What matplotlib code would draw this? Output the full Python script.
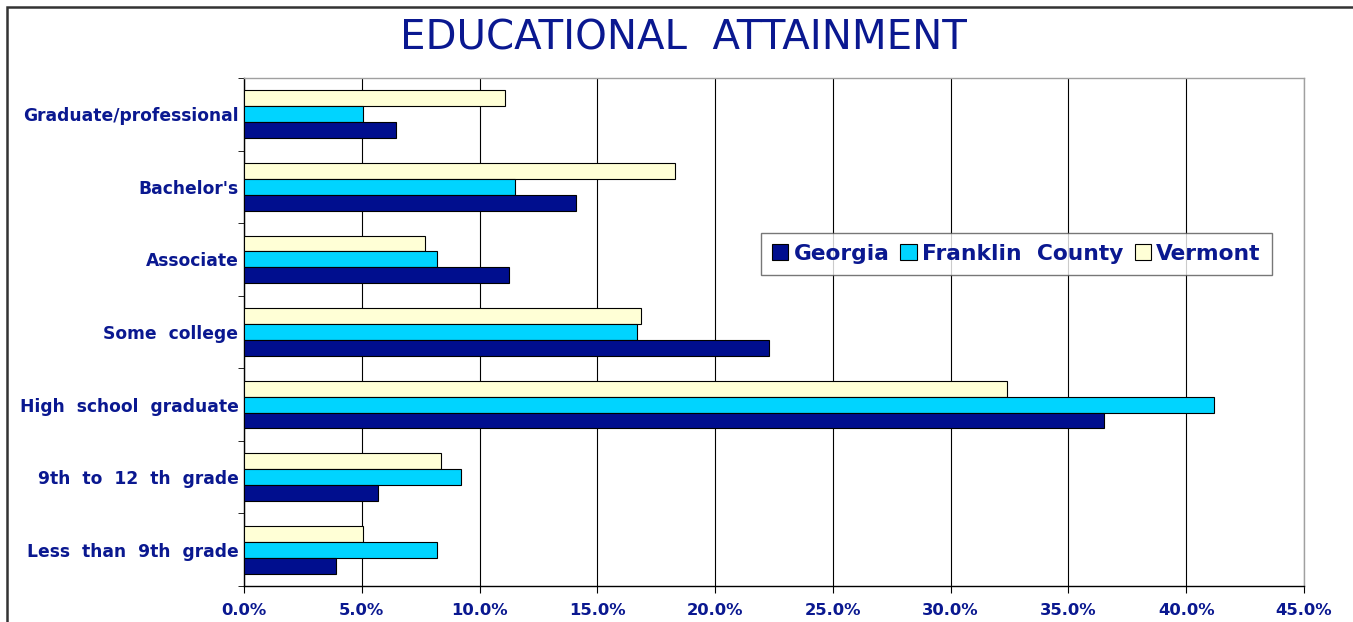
import matplotlib
matplotlib.use("Agg")
import matplotlib.pyplot as plt
from matplotlib.patches import Rectangle
from matplotlib.ticker import PercentFormatter
import numpy as np

# data (percent)
categories = ["Graduate/professional", "Bachelor's", "Associate", "Some  college",
              "High  school  graduate", "9th  to  12  th  grade", "Less  than  9th  grade"]
georgia = [6.45, 14.1, 11.25, 22.3, 36.5, 5.67, 3.9]
franklin = [5.05, 11.5, 8.2, 16.7, 41.2, 9.23, 8.2]
vermont = [11.1, 18.3, 7.7, 16.86, 32.4, 8.38, 5.06]
series_names = ["Georgia", "Franklin  County", "Vermont"]
x_ticks = [0, 5, 10, 15, 20, 25, 30, 35, 40, 45]

NAVY = "#000E8E"
CYAN = "#00D4FF"
CREAM = "#FFFFD6"
TEXT = "#0A1890"

plt.rcParams['font.family'] = ['DejaVu Sans']

fig = plt.figure(figsize=(13.53, 6.22), dpi=100)
ax = fig.add_axes([244 / 1353, 1 - 586 / 622, (1304 - 244) / 1353, (586 - 78) / 622])

y = np.arange(len(categories))
h = 0.219
ax.barh(y - h, vermont, height=h, color=CREAM, edgecolor="black", linewidth=0.8,
        label=series_names[2], zorder=3)
ax.barh(y, franklin, height=h, color=CYAN, edgecolor="black", linewidth=0.8,
        label=series_names[1], zorder=3)
ax.barh(y + h, georgia, height=h, color=NAVY, edgecolor="black", linewidth=0.8,
        label=series_names[0], zorder=3)

ax.set_xlim(0, 45)
ax.set_ylim(len(categories) - 0.5, -0.5)
ax.set_xticks(x_ticks)
ax.xaxis.set_major_formatter(PercentFormatter(decimals=1))
ax.set_yticks(y)
ax.set_yticklabels(categories)
ax.set_yticks(np.arange(len(categories) + 1) - 0.5, minor=True)
ax.tick_params(axis="y", which="major", length=0, pad=4)
ax.tick_params(axis="y", which="minor", length=4, direction="out", color="black")
ax.tick_params(axis="x", length=5, direction="out", pad=7)

for lab in ax.get_yticklabels():
    lab.set_color(TEXT)
    lab.set_fontweight("bold")
    lab.set_fontsize(12.3)
for lab in ax.get_xticklabels():
    lab.set_color(TEXT)
    lab.set_fontweight("bold")
    lab.set_fontsize(11.8)

ax.grid(axis="x", color="black", linewidth=0.8, zorder=0)
ax.set_axisbelow(True)
ax.spines["left"].set_color("black")
ax.spines["bottom"].set_color("black")
ax.spines["top"].set_color("#a0a0a0")
ax.spines["right"].set_color("#a0a0a0")
for s in ax.spines.values():
    s.set_linewidth(1.0)

# legend in the order Georgia, Franklin, Vermont
handles, labels = ax.get_legend_handles_labels()
order = [2, 1, 0]
leg = ax.legend([handles[i] for i in order], [labels[i] for i in order],
                loc="upper left", bbox_to_anchor=((761 - 244) / 1060, (586 - 233) / 508),
                borderaxespad=0, ncol=3, fancybox=False, frameon=True,
                handlelength=0.75, handleheight=0.75, handletextpad=0.25,
                columnspacing=0.5, borderpad=0.5,
                prop={"weight": "bold", "size": 15.7})
leg.get_frame().set_edgecolor("#555555")
leg.get_frame().set_linewidth(1.0)
for t in leg.get_texts():
    t.set_color(TEXT)

fig.text(0.505, 1 - 38 / 622, "EDUCATIONAL  ATTAINMENT", ha="center", va="center",
         fontsize=29, color=TEXT, family=["Liberation Sans Narrow", "DejaVu Sans"])

# outer chart frame (only left and top edges are visible in the crop)
fig.add_artist(Rectangle((7 / 1353, -0.1), 2, 1 - 7 / 622 + 0.1, transform=fig.transFigure,
                         fill=False, edgecolor="#333333", linewidth=1.8))

fig.savefig("out.png", dpi=100)
